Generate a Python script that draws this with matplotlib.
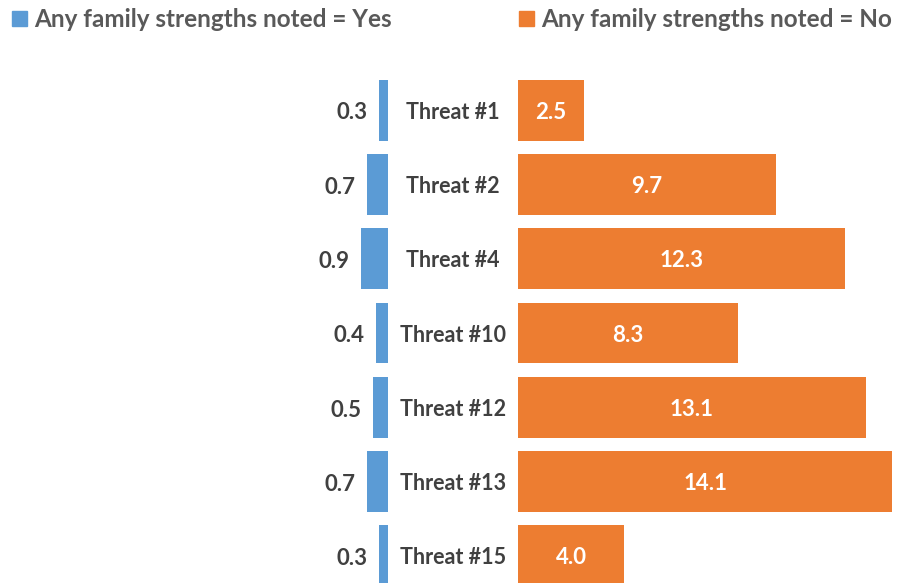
import matplotlib.pyplot as plt
import matplotlib.transforms as mtransforms
from matplotlib.patches import Patch
import numpy as np

plt.rcParams['font.family'] = ['Lato', 'DejaVu Sans']
plt.rcParams['font.weight'] = 'bold'

threats = ["Threat #1", "Threat #2", "Threat #4", "Threat #10",
           "Threat #12", "Threat #13", "Threat #15"]
yes_vals = [0.3, 0.7, 0.9, 0.4, 0.5, 0.7, 0.3]
no_vals = [2.5, 9.7, 12.3, 8.3, 13.1, 14.1, 4.0]

blue = "#5B9BD5"
orange = "#ED7D31"
label_col = "#404040"
legend_col = "#595959"

W, H = 900, 583
fig = plt.figure(figsize=(9, 5.83), dpi=100)

top_px, bot_px = 73, 593
ax_b = (H - bot_px) / H
ax_h = (bot_px - top_px) / H

# left axes (blue, grows leftward)
axl = fig.add_axes([0, ax_b, 388 / W, ax_h])
# right axes (orange)
axr = fig.add_axes([518 / W, ax_b, (W - 518) / W, ax_h])

y = np.arange(len(threats))
axl.barh(y, yes_vals, height=0.82, color=blue)
axr.barh(y, no_vals, height=0.82, color=orange)

axl.set_xlim(388 / 30.0, 0)
axr.set_xlim(0, (W - 518) / 26.55)
for ax in (axl, axr):
    ax.set_ylim(len(threats) - 0.5, -0.5)
    ax.axis('off')

for yi, v in zip(y, yes_vals):
    axl.annotate(f"{v:.1f}", (v, yi), xytext=(-8, -2), textcoords='offset points',
                 ha='right', va='center', fontsize=16, color=label_col, fontweight='bold')
for yi, v in zip(y, no_vals):
    axr.annotate(f"{v:.1f}", (v / 2, yi), xytext=(0, -1.5), textcoords='offset points',
                 ha='center', va='center', fontsize=16, color='white', fontweight='bold')

trans = mtransforms.blended_transform_factory(fig.transFigure, axl.transData)
off = mtransforms.ScaledTranslation(0, -1.5 / 72, fig.dpi_scale_trans)
for yi, t in zip(y, threats):
    fig.text(453 / W, yi, t, transform=trans + off, ha='center', va='center',
             fontsize=15.5, color=label_col, fontweight='bold')

leg_kw = dict(frameon=False, fontsize=17.5, handlelength=0.6, handleheight=0.6,
              handletextpad=0.3, borderaxespad=0, borderpad=0)
l1 = fig.legend([Patch(color=blue)], ["Any family strengths noted = Yes"],
                loc='upper left', bbox_to_anchor=(12 / W, 1 - 8 / H), **leg_kw)
l2 = fig.legend([Patch(color=orange)], ["Any family strengths noted = No"],
                loc='upper left', bbox_to_anchor=(519 / W, 1 - 8 / H), **leg_kw)
for leg in (l1, l2):
    for txt in leg.get_texts():
        txt.set_color(legend_col)
        txt.set_fontweight('bold')

fig.savefig("out.png", dpi=100)
